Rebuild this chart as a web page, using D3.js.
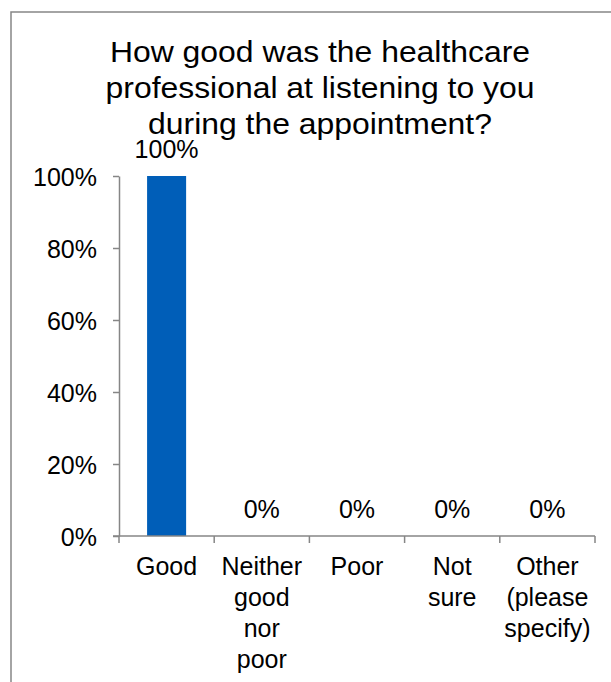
<!DOCTYPE html>
<html>
<head>
<meta charset="utf-8">
<script src="https://cdn.jsdelivr.net/npm/d3@7"></script>
<style>
  html, body { margin: 0; padding: 0; background: #fff; }
  svg { display: block; }
  text { font-family: "Liberation Sans", Arial, sans-serif; fill: #000; }
</style>
</head>
<body>
<svg id="chart" width="611" height="682"></svg>
<script>
// Survey question and response shares
const titleLines = ["How good was the healthcare", "professional at listening to you", "during the appointment?"];
const categories = ["Good", "Neither good nor poor", "Poor", "Not sure", "Other (please specify)"];
const shares = [1.0, 0, 0, 0, 0];
const yTicks = [0, 0.2, 0.4, 0.6, 0.8, 1.0];

const svg = d3.select("#chart");
const axisColor = "#868686";
const barColor = "#005EB8";
const labelSize = 25;

// Outer frame (right and bottom edges run off the canvas)
svg.append("rect")
  .attr("x", 11).attr("y", 12)
  .attr("width", 640).attr("height", 700)
  .attr("fill", "none").attr("stroke", axisColor).attr("stroke-width", 1.5);

// Title, slightly widened
svg.append("g")
  .attr("transform", "translate(320,0) scale(1.1,1)")
  .selectAll("text").data(titleLines).join("text")
  .attr("x", 0).attr("y", (d, i) => 62 + i * 36)
  .attr("text-anchor", "middle")
  .style("font-size", "29px")
  .text(d => d);

const plot = { left: 119, right: 595, top: 176, bottom: 536 };

const x = d3.scaleBand().domain(categories).range([plot.left, plot.right]).paddingInner(0).paddingOuter(0);
const y = d3.scaleLinear().domain([0, 1]).range([plot.bottom, plot.top]);

// Y axis
const yAxis = svg.append("g")
  .attr("transform", `translate(${plot.left},0)`)
  .call(d3.axisLeft(y).tickValues(yTicks).tickFormat(d3.format(".0%")).tickSize(6).tickSizeOuter(0).tickPadding(16));
yAxis.select(".domain").attr("stroke", axisColor).attr("stroke-width", 1.5);
yAxis.selectAll(".tick line").attr("stroke", axisColor).attr("stroke-width", 1.5);
yAxis.selectAll(".tick text")
  .attr("fill", "#000").attr("dy", "0.36em")
  .style("font-size", labelSize + "px")
  .style("font-family", "'Liberation Sans', Arial, sans-serif");

// Bars
const bw = x.bandwidth() * 0.41;
svg.append("g").selectAll("rect").data(categories).join("rect")
  .attr("x", (d) => x(d) + (x.bandwidth() - bw) / 2)
  .attr("width", bw)
  .attr("y", (d, i) => y(shares[i]))
  .attr("height", (d, i) => y(0) - y(shares[i]))
  .attr("fill", barColor);

// X axis line with boundary ticks
const xg = svg.append("g");
xg.append("line")
  .attr("x1", plot.left - 6).attr("x2", plot.right)
  .attr("y1", y(0)).attr("y2", y(0))
  .attr("stroke", axisColor).attr("stroke-width", 1.5);
const bounds = categories.map(c => x(c)).concat([x(categories[categories.length - 1]) + x.bandwidth()]);
xg.selectAll("line.tk").data(bounds).join("line")
  .attr("class", "tk")
  .attr("x1", d => d).attr("x2", d => d)
  .attr("y1", y(0)).attr("y2", y(0) + 7)
  .attr("stroke", axisColor).attr("stroke-width", 1.5);

// Category labels, one word per line
const cl = svg.append("g").selectAll("text").data(categories).join("text")
  .attr("text-anchor", "middle")
  .style("font-size", labelSize + "px");
cl.each(function(d) {
  const t = d3.select(this);
  d.split(" ").forEach((w, i) => {
    t.append("tspan")
      .attr("x", x(d) + x.bandwidth() / 2)
      .attr("y", 575 + i * 31)
      .text(w);
  });
});

// Value labels
svg.append("g").selectAll("text").data(categories).join("text")
  .attr("x", d => x(d) + x.bandwidth() / 2)
  .attr("y", (d, i) => y(shares[i]) - 18)
  .attr("text-anchor", "middle")
  .style("font-size", labelSize + "px")
  .text((d, i) => d3.format(".0%")(shares[i]));
</script>
</body>
</html>
